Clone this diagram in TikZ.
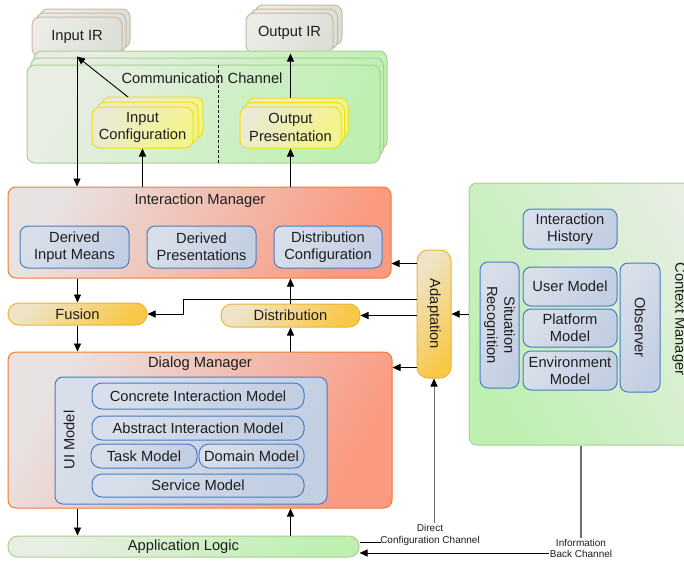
\documentclass[tikz,border=0pt]{standalone}
\usepackage{fontspec}
\setmainfont{Liberation Sans}
\usetikzlibrary{arrows.meta,calc}

% colours
\definecolor{txt}{HTML}{1E1E1E}
\definecolor{redline}{HTML}{F47A2E}
\definecolor{redA}{HTML}{E8E2E2}
\definecolor{redB}{HTML}{FA9A80}
\definecolor{blueline}{HTML}{4A7CC4}
\definecolor{blueA}{HTML}{D8DFEA}
\definecolor{blueB}{HTML}{C2CEE2}
\definecolor{greenline}{HTML}{A9CF92}
\definecolor{greenA}{HTML}{E8EEE4}
\definecolor{greenB}{HTML}{BEF0B2}
\definecolor{yelline}{HTML}{F0E010}
\definecolor{yelA}{HTML}{EAEAD4}
\definecolor{yelB}{HTML}{F4F48C}
\definecolor{orline}{HTML}{EDB52C}
\definecolor{orA}{HTML}{EFE4C8}
\definecolor{orB}{HTML}{F8C848}
\definecolor{irline}{HTML}{CBB8A4}
\definecolor{irA}{HTML}{EBECE8}
\definecolor{irB}{HTML}{DCDFD6}
\definecolor{changrey}{HTML}{6E6E6E}

% a box given by its corners (name, style, x1, y1, x2, y2, text)
\newcommand\boxat[7]{%
  \node[#2, minimum width={(#5-#3)*1pt}, minimum height={(#6-#4)*1pt}]
    (#1) at ({(#3+#5)/2},{(#4+#6)/2}) {#7};}
% a box with two copies stacked behind it (name, style, x1, y1, x2, y2, dx, dy, text)
\newcommand\layered[9]{%
  \path[#2] ({#3+2*#7},{#4-2*#8}) rectangle ({#5+2*#7},{#6-2*#8});
  \path[#2] ({#3+#7},{#4-#8}) rectangle ({#5+#7},{#6-#8});
  \boxat{#1}{#2}{#3}{#4}{#5}{#6}{#9}}

\tikzset{
  every node/.style={text=txt, font=\fontsize{14.7}{17.4}\selectfont,
    align=center, inner sep=0pt},
  small/.style={font=\fontsize{10}{11.8}\selectfont},
  boxbase/.style={rounded corners=8pt, line width=1pt},
  redbox/.style={boxbase, draw=redline, left color=redA, right color=redB, shading angle=60},
  bluebox/.style={boxbase, draw=blueline, left color=blueA, right color=blueB, shading angle=60},
  bluepill/.style={bluebox, rounded corners=10pt},
  greenbox/.style={boxbase, draw=greenline, left color=greenA, right color=greenB, shading angle=60},
  greenpanel/.style={boxbase, draw=greenline, left color=greenB, right color=greenA, shading angle=120},
  greenpill/.style={greenbox, rounded corners=10pt},
  yelbox/.style={boxbase, draw=yelline, left color=yelA, right color=yelB, shading angle=60},
  orpill/.style={boxbase, rounded corners=11pt, draw=orline, left color=orA, right color=orB, shading angle=50},
  irbox/.style={boxbase, draw=irline, left color=irA, right color=irB, shading angle=60},
  arr/.style={-{Triangle[length=8pt,width=7pt,color=black]}, line width=0.9pt, draw=black},
  chan/.style={line width=1.1pt, draw=changrey},
  thin/.style={line width=0.8pt, draw=black},
}

\begin{document}
\begin{tikzpicture}[x=1pt,y=-1pt]
\useasboundingbox (0,0) rectangle (684,563);
\fill[white] (0,0) rectangle (684,563);
\clip (0,0) rectangle (684,563);

% ---------- context manager ----------
\boxat{cm}{greenpanel}{469}{183}{730}{445}{}
\node[rotate=-90] (cmT) at (679,319) {Context Manager};
\boxat{hist}{bluebox}{523}{209}{617}{249}{Interaction\\History}
\boxat{sit}{bluebox}{480}{262}{519}{388}{}
\node[rotate=-90] (sitT) at (sit) {Situation\\Recognition};
\boxat{user}{bluebox}{523}{267}{617}{306}{User Model}
\boxat{plat}{bluebox}{523}{309}{617}{347}{Platform\\Model}
\boxat{env}{bluebox}{523}{351}{617}{390}{Environment\\Model}
\boxat{obs}{bluebox}{620}{263}{660}{392}{}
\node[rotate=-90] (obsT) at (obs) {Observer};

% ---------- communication channel ----------
\layered{inIR}{irbox}{32}{17}{122}{56}{4}{4}{Input IR}
\layered{outIR}{irbox}{246}{13}{333}{53}{4.5}{4}{Output IR}
\layered{cc}{greenbox}{27}{65}{380}{163}{3.5}{7}{}
\node (ccT) at (202,78) {Communication Channel};
\draw[thin, dash pattern=on 3pt off 2pt] (218,65) -- (218,163);
\layered{inCfg}{yelbox}{92}{107}{193}{148}{5}{5}{Input\\Configuration}
\layered{outPr}{yelbox}{240}{107}{341}{148}{3.5}{4.5}{Output\\Presentation}

% ---------- interaction manager ----------
\boxat{im}{redbox}{8}{187}{391}{278}{}
\node (imT) at (200,201) {Interaction Manager};
\boxat{dim}{bluebox}{20}{226}{129}{268}{Derived\\Input Means}
\boxat{dpr}{bluebox}{147}{226}{256}{268}{Derived\\Presentations}
\boxat{dcf}{bluebox}{274}{226}{382}{268}{Distribution\\Configuration}

% ---------- fusion, distribution, adaptation ----------
\boxat{fus}{orpill}{8}{303}{147}{325}{Fusion}
\boxat{dist}{orpill}{221}{304}{360}{327}{Distribution}
\boxat{adapt}{orpill}{417}{250}{451}{378}{}
\node[rotate=-90] (adaptT) at (adapt) {Adaptation};

% ---------- dialog manager ----------
\boxat{dm}{redbox}{8}{352}{392}{508}{}
\node (dmT) at (200,364) {Dialog Manager};
\boxat{ui}{bluebox}{55}{377}{327}{504}{}
\node[rotate=90] (uiT) at (69,440) {UI Model};
\boxat{cim}{bluepill}{92}{383}{304}{409}{Concrete Interaction Model}
\boxat{aim}{bluepill}{92}{416}{304}{440}{Abstract Interaction Model}
\boxat{task}{bluepill}{91}{444}{197}{468}{Task Model}
\boxat{dom}{bluepill}{199}{444}{304}{468}{Domain Model}
\boxat{svc}{bluepill}{92}{474}{304}{497}{Service Model}

% ---------- application logic ----------
\boxat{app}{greenpill}{8}{536}{359}{557}{Application Logic}

% ---------- connectors ----------
\coordinate (cfgTop) at (128,97);
\draw[arr] (cfgTop) -- (inIR.south);
\draw[arr] (inIR.south) -- (inIR.south |- im.north);
\draw[arr] (im.north -| inCfg.south) -- (inCfg.south);
\draw[arr] (im.north -| outPr.south) -- (outPr.south);
\draw[arr] ([yshift=9pt]outPr.north) -- (outPr.north |- outIR.south);

\draw[arr] (im.south -| fus.north) -- (fus.north);
\draw[arr] (fus.south) -- (fus.south |- dm.north);
\draw[arr] (dm.north -| dist.south) -- (dist.south);
\draw[arr] (dist.north) -- (dist.north |- im.south);
\draw[arr] (dm.south -| fus.south) -- (app.north -| fus.south);
\draw[arr] (app.north -| dist.south) -- (dm.south -| dist.south);

\coordinate (aIM) at ([yshift=-14pt]adapt.north west);
\coordinate (aFus) at ([yshift=15pt]adapt.west);
\coordinate (fusBend) at (183,0);
\coordinate (aDM) at ([yshift=11pt]adapt.south west);
\draw[arr] (aIM) -- (aIM -| im.east);
\draw[arr] (aFus) -- (aFus -| fusBend) |- (fus.east);
\draw[arr] (adapt.west |- dist.east) -- (dist.east);
\draw[arr] (aDM) -- (aDM -| dm.east);
\draw[arr] (cm.west |- adapt.east) -- (adapt.east);

% channels between application logic and the managers
\node[small] (dcc) at (430,535) {Direct\\Configuration Channel};
\coordinate (dccL) at (381,542);
\draw[thin] (app.east |- dccL) -- (dccL);
\draw[chan, arr, draw=changrey] ([yshift=1pt]dcc.north -| adapt.south) -- (adapt.south);

\node[small] (ibc) at (581,548.5) {Information\\Back Channel};
\draw[chan] (cm.south -| ibc.north) -- ([yshift=1pt]ibc.north);
\coordinate (ibcL) at (549,553);
\draw[arr] (ibcL) -- (app.east |- ibcL);
\end{tikzpicture}
\end{document}
